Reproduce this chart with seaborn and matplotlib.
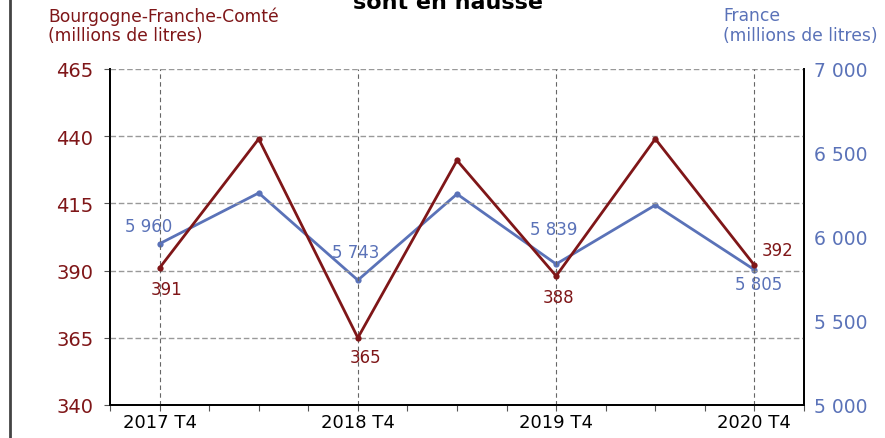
import matplotlib
matplotlib.use("Agg")
import matplotlib.pyplot as plt
import seaborn as sns
from matplotlib.lines import Line2D

# data
periodes = ["2017 T4", "2018 T2", "2018 T4", "2019 T2", "2019 T4", "2020 T2", "2020 T4"]
bfc = [391, 439, 365, 431, 388, 439, 392]          # Bourgogne-Franche-Comté (millions de litres)
france = [5960, 6262, 5743, 6256, 5839, 6190, 5805]  # France (millions de litres)
tick_labels = ["2017 T4", "2018 T4", "2019 T4", "2020 T4"]

# labelled points: (index, offset in pixels)
bfc_labels = {0: (7, -21), 2: (8, -19), 4: (2, -21), 6: (23, 15)}
france_labels = {0: (-11, 18), 2: (-2, 28), 4: (-2, 35), 6: (4, -14)}

RED = "#7f1618"
BLUE = "#5a72b8"

sns.set_style("white")
plt.rcParams["font.family"] = ["DejaVu Sans"]


def quarter_index(label):
    year, q = label.split(" T")
    return (int(year) - 2017) * 4 + int(q) - 4


x = [quarter_index(p) for p in periodes]

fig = plt.figure(figsize=(8.85, 4.39), dpi=100)
ax = fig.add_axes([110 / 885, 33 / 439, 694 / 885, 336 / 439])
ax2 = ax.twinx()

sns.lineplot(x=x, y=bfc, ax=ax, color=RED, linewidth=2, marker="o",
             markersize=4.5, markeredgewidth=0, zorder=3)
sns.lineplot(x=x, y=france, ax=ax2, color=BLUE, linewidth=2, marker="o",
             markersize=4.5, markeredgewidth=0, zorder=3)

ax.set_xlim(-1, 13)
ax.set_ylim(340, 465)
ax2.set_ylim(5000, 7000)

ax.set_xticks([quarter_index(t) for t in tick_labels])
ax.set_xticklabels(tick_labels, fontsize=13, color="black")
ax.set_xticks(range(-1, 14), minor=True)
ax.set_yticks(range(340, 466, 25))
ax.set_yticklabels([str(v) for v in range(340, 466, 25)], fontsize=14, color=RED)
ax2.set_yticks(range(5000, 7001, 500))
ax2.set_yticklabels([f"{v:,}".replace(",", " ") for v in range(5000, 7001, 500)],
                    fontsize=13.5, color=BLUE)

ax.tick_params(axis="x", which="both", direction="out", length=4, width=0.8,
               colors="#555555", labelcolor="black", pad=2, bottom=True)
ax.tick_params(axis="y", direction="out", length=4, width=0.8, colors="#555555",
               labelcolor=RED, pad=8, left=True)
ax2.tick_params(axis="y", direction="out", length=0, labelcolor=BLUE, pad=7)

# grid
ax.grid(False)
ax2.grid(False)
for v in range(365, 466, 25):
    ax.axhline(v, color="#999999", linestyle=(0, (4, 2)), linewidth=1, zorder=1)
for t in tick_labels:
    ax.axvline(quarter_index(t), color="#666666", linestyle=(0, (4, 3)), linewidth=0.8, zorder=1)

for a in (ax, ax2):
    a.spines["top"].set_visible(False)
    for s in ("left", "right", "bottom"):
        a.spines[s].set_color("black")
        a.spines[s].set_linewidth(1.3)

ax.set_zorder(ax2.get_zorder() + 1)
ax.patch.set_visible(False)

# value labels
for i, (dx, dy) in bfc_labels.items():
    ax.annotate(str(bfc[i]), (x[i], bfc[i]), xytext=(dx, dy), textcoords="offset pixels",
                ha="center", va="center", fontsize=12, color=RED)
for i, (dx, dy) in france_labels.items():
    ax2.annotate(f"{france[i]:,}".replace(",", " "), (x[i], france[i]), xytext=(dx, dy),
                 textcoords="offset pixels", ha="center", va="center", fontsize=12, color=BLUE)

# axis titles
fig.text(48 / 885, 1 - 26 / 439, "Bourgogne-Franche-Comté\n(millions de litres)",
         ha="left", va="center", fontsize=12.3, color=RED, linespacing=1.1)
fig.text(723 / 885, 1 - 26 / 439, "France\n(millions de litres)",
         ha="left", va="center", fontsize=12.3, color=BLUE, linespacing=1.1)
fig.text(448 / 885, 1 - 9 / 439, "sont en hausse", ha="center", va="baseline",
         fontsize=16, fontweight="bold", color="black")

# left frame line
fig.add_artist(Line2D([10 / 885, 10 / 885], [0, 1], color="#444444", linewidth=2))

plt.savefig("out.png", dpi=100)
plt.close()
